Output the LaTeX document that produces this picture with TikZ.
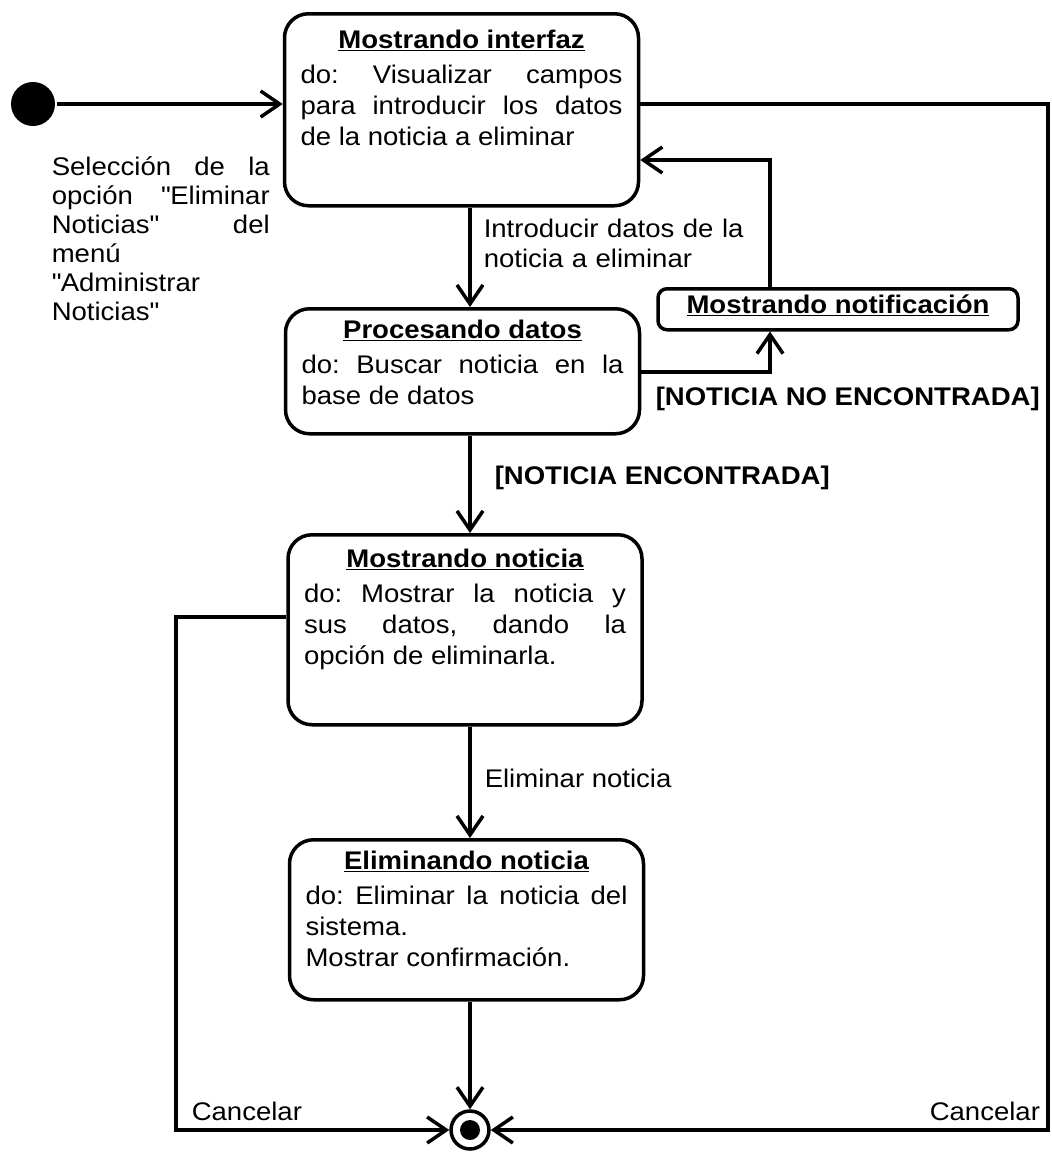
\documentclass[tikz,border=0pt]{standalone}
\usepackage{fontspec}
\setmainfont{Liberation Sans}[FakeStretch=1.08]
\usetikzlibrary{arrows.meta}
\begin{document}
\begin{tikzpicture}
	[x=1pt,y=-1pt,line width=3.5pt,
	>={Straight Barb[length=19pt,width=26pt]},
	every node/.style={font=\fontsize{25.5}{31}\selectfont\frenchspacing, inner sep=0pt},
	estado/.style={draw, rounded corners=24pt, anchor=north, align=justify,
		text width=322pt, inner xsep=16pt, inner ysep=0pt},
	etiq/.style={anchor=base west}]
	\useasboundingbox (0,0) rectangle (1052,1157);

	\node [circle, fill, minimum size=44pt] (ini) at (33,104) {};
	\node [circle, draw, minimum size=38pt,
		path picture={\fill (path picture bounding box.center) circle (10pt);}]
		(fin) at (470,1130) {};

	\node [estado, text height=35pt, text depth=157pt] (mi) at (461.5,12)
		{{\centering\underline{\textbf{Mostrando interfaz}}\par}\vspace{4pt}%
		do: Visualizar campos\linebreak para introducir los datos\linebreak
		de la noticia a eliminar};
	\node [estado, text height=30pt, text depth=95pt] (pd) at (462.5,307)
		{{\centering\underline{\textbf{Procesando datos}}\par}\vspace{4pt}%
		do: Buscar noticia en la\linebreak base de datos};
	\node [estado, rounded corners=9pt, text width=328pt,
		text height=25pt, text depth=16pt] (mnot) at (838,287)
		{{\centering\underline{\textbf{Mostrando notificación}}\par}};
	\node [estado, text height=33pt, text depth=157pt] (mn) at (465,533)
		{{\centering\underline{\textbf{Mostrando noticia}}\par}\vspace{4pt}%
		do: Mostrar la noticia y\linebreak sus datos, dando la\linebreak
		opción de eliminarla.};
	\node [estado, text height=30pt, text depth=130pt] (en) at (466.5,838)
		{{\centering\underline{\textbf{Eliminando noticia}}\par}\vspace{4pt}%
		do: Eliminar la noticia del\linebreak sistema.\\
		Mostrar confirmación.};

	%%etiquetas
	\node [etiq, text width=218pt, align=justify,
		font=\fontsize{25.5}{29}\selectfont\frenchspacing]
		(lsel) at (50,175) {Selección de la\linebreak
		opción \textquotedbl Eliminar\linebreak
		Noticias\textquotedbl{} del\linebreak menú\\
		\textquotedbl Administrar\\ Noticias\textquotedbl};
	\node [etiq, text width=280pt, font=\fontsize{25.5}{30}\selectfont]
		(lint) at (482,237) {Introducir datos de la\\ noticia a eliminar};
	\node [etiq] (lnoe) at (654,405) {\textbf{[NOTICIA NO ENCONTRADA]}};
	\node [etiq] (lenc) at (493,484) {\textbf{[NOTICIA ENCONTRADA]}};
	\node [etiq] (lelim) at (483,787) {Eliminar noticia};
	\node [etiq] (lcan1) at (190,1120) {Cancelar};
	\node [etiq] (lcan2) at (928,1120) {Cancelar};

	\coordinate (rgt) at (1048,0);
	\coordinate (lft) at (176,617);
	\coordinate (dn) at (770,372);
	\coordinate (up) at (770,160);

	\draw[->] (ini) -- (ini -| mi.west);
	\foreach \from/\to in {mi/pd,pd/mn,mn/en}
		\draw[->] (\from.south -| fin) -- (\to.north -| fin);
	\draw[->] (en.south -| fin) -- (fin);

	\draw[->] (pd.east |- dn) -- (dn) -- (mnot.south -| dn);
	\draw[->] (mnot.north -| up) -- (up) -- (mi.east |- up);

	\draw[->] (ini -| mi.east) -| (rgt |- fin) -- (fin);
	\draw[->] (mn.west |- lft) -- (lft) |- (fin);
\end{tikzpicture}
\end{document}
